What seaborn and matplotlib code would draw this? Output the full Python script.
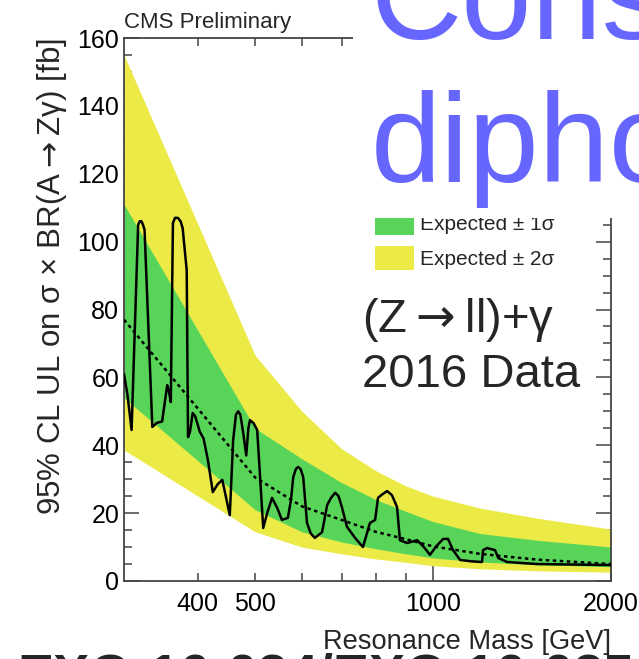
import numpy as np
import pandas as pd
import matplotlib
matplotlib.use("Agg")
import matplotlib.pyplot as plt
from matplotlib.patches import Patch, Rectangle
from matplotlib.ticker import FixedLocator, FuncFormatter, MultipleLocator
import seaborn as sns

# Expected limit bands (fb) at the scanned resonance masses (GeV)
band_mass = [300, 500, 600, 700, 800, 900, 1000, 1200, 1500, 2000]
exp_median = [77, 30.5, 22, 18, 14.5, 12.3, 10.2, 8.0, 6.3, 5.0]
exp_m1 = [54, 21, 14.5, 11.5, 9.5, 8.0, 6.8, 5.6, 4.8, 4.2]
exp_p1 = [111, 45, 36, 29, 24, 20.5, 17.5, 14.0, 12.0, 10.0]
exp_m2 = [38.6, 14.5, 10, 8.0, 6.5, 5.5, 4.5, 3.6, 3.0, 2.6]
exp_p2 = [155, 66.5, 50, 39, 32.5, 28, 25, 21.5, 18.5, 15.3]

# Observed limit (fb)
obs_mass = [300, 304, 309, 317, 319, 321, 323, 325, 335, 341, 348, 355, 357, 360,
            363, 366, 370, 374, 377, 383, 385, 388, 392, 396, 403, 409, 416, 424,
            432, 440, 453, 459, 464, 468, 472, 477, 483, 487, 490, 497, 504, 510,
            516, 524, 534, 545, 555, 568, 575, 580, 586, 591, 597, 603, 612, 621,
            631, 649, 662, 672, 683, 692, 701, 715, 738, 761, 782, 798, 807,
            820, 836, 852, 869, 879, 904, 940, 965, 988, 1010, 1040, 1060,
            1081, 1111, 1160, 1210, 1215, 1234, 1273, 1289, 1334, 1500, 2000]
obs_limit = [61, 55, 44.5, 105, 106, 106, 105, 103.5, 45.4, 46.6, 47, 57.7, 56.3, 52.7,
             105.5, 107, 107, 106, 104, 91.6, 42.4, 44, 49.5, 48.5, 44, 42, 35.6, 26.2,
             28.5, 29.8, 19.4, 41.5, 49, 50, 49, 44, 37, 45, 47.4, 46.5, 44.5, 30,
             15.6, 20, 24.5, 21.5, 18, 18.6, 24, 30.6, 33, 33.6, 33, 30.6, 17.1, 14,
             12.7, 14.4, 22.4, 24.5, 26, 25, 21.8, 16, 12.7, 10, 17.1, 18, 24.5,
             25.5, 26.5, 25.3, 21.8, 12, 11.2, 12, 10, 7.7, 10, 12.4, 12.4,
             9.1, 6.2, 5.8, 5.6, 9.1, 9.7, 9.1, 6.8, 5.6, 5.0, 4.7]

x_tick_labels = {400: "400", 500: "500", 1000: "1000", 2000: "2000"}

YELLOW = "#EBEA47"
GREEN = "#58D558"
AXIS_COL = "#444444"

sns.set_style("ticks")
plt.rcParams["font.family"] = ["Liberation Sans", "DejaVu Sans"]
plt.rcParams["mathtext.fontset"] = "dejavusans"

W, H = 639, 659
fig = plt.figure(figsize=(W / 100, H / 100), dpi=100)
ax = fig.add_axes([124 / W, 1 - 581 / H, (611 - 124) / W, (581 - 38) / H])

bands = pd.DataFrame({"mass": band_mass, "median": exp_median,
                      "m1": exp_m1, "p1": exp_p1, "m2": exp_m2, "p2": exp_p2})
obs = pd.DataFrame({"mass": obs_mass, "limit": obs_limit})

ax.fill_between(bands["mass"], bands["m2"], bands["p2"], color=YELLOW, lw=0, zorder=1)
ax.fill_between(bands["mass"], bands["m1"], bands["p1"], color=GREEN, lw=0, zorder=2)
sns.lineplot(data=bands, x="mass", y="median", ax=ax, color="black", lw=1.8,
             linestyle=(0, (1.4, 1.4)), zorder=3)
sns.lineplot(data=obs, x="mass", y="limit", ax=ax, color="black", lw=1.8, zorder=4)

ax.set_xscale("log")
ax.set_xlim(300, 2000)
ax.set_ylim(0, 160)

ax.xaxis.set_major_locator(FixedLocator([1000, 2000]))
ax.xaxis.set_minor_locator(FixedLocator([400, 500, 600, 700, 800, 900]))
fmt = FuncFormatter(lambda v, p: x_tick_labels.get(int(round(v)), ""))
ax.xaxis.set_major_formatter(fmt)
ax.xaxis.set_minor_formatter(fmt)
ax.yaxis.set_major_locator(MultipleLocator(20))
ax.yaxis.set_minor_locator(MultipleLocator(5))

ax.tick_params(which="both", direction="in", top=True, right=True,
               colors=AXIS_COL, labelcolor="black", width=1.1)
ax.tick_params(which="major", length=10.5)
ax.tick_params(which="minor", length=5.5)
ax.tick_params(axis="x", which="both", labelsize=18, pad=8)
ax.tick_params(axis="y", which="both", labelsize=18, pad=3.5)
for s in ax.spines.values():
    s.set_color(AXIS_COL)
    s.set_linewidth(1.3)

ax.set_xlabel("Resonance Mass [GeV]", fontsize=19.6, loc="right")
ax.xaxis.set_label_coords(1.0, -0.088)
ax.set_ylabel(r"95% CL UL on σ × BR(A${\rightarrow}$Zγ) [fb]", fontsize=22.5, loc="top")
ax.yaxis.set_label_coords(-0.112, 1.0)

handles = [Patch(facecolor=GREEN, edgecolor="none"),
           Patch(facecolor=YELLOW, edgecolor="none")]
ax.legend(handles, ["Expected ± 1σ", "Expected ± 2σ"], loc="lower left",
          bbox_to_anchor=(375 / W, 1 - 270 / H), bbox_transform=fig.transFigure,
          frameon=False, borderpad=0, borderaxespad=0, fontsize=15,
          handlelength=1.87, handleheight=1.39, labelspacing=0.53,
          handletextpad=0.3)

fig.text(124 / W, 1 - 28 / H, "CMS Preliminary", fontsize=16, va="baseline")
fig.text(362 / W, 1 - 332 / H, r"(Z${\rightarrow}$ll)+γ", fontsize=34, va="baseline")
fig.text(362 / W, 1 - 387 / H, "2016 Data", fontsize=34, va="baseline")

# slide title box over the upper right of the plot
fig.add_artist(Rectangle((353 / W, 1 - 218 / H), (W - 353) / W, 218 / H,
                         transform=fig.transFigure, facecolor="white",
                         edgecolor="none", zorder=10))
fig.text(371 / W, 1 - 39 / H, "Cons", fontsize=91, color="#6666FF",
         va="baseline", zorder=11)
fig.text(371 / W, 1 - 182 / H, "dipho", fontsize=91, color="#6666FF",
         va="baseline", zorder=11)
fig.text(17 / W, 1 - 692 / H, "EXO-16-034/EXO-16-035", fontsize=39,
         fontweight="bold", va="baseline", zorder=11)

fig.savefig("out.png", dpi=100)
